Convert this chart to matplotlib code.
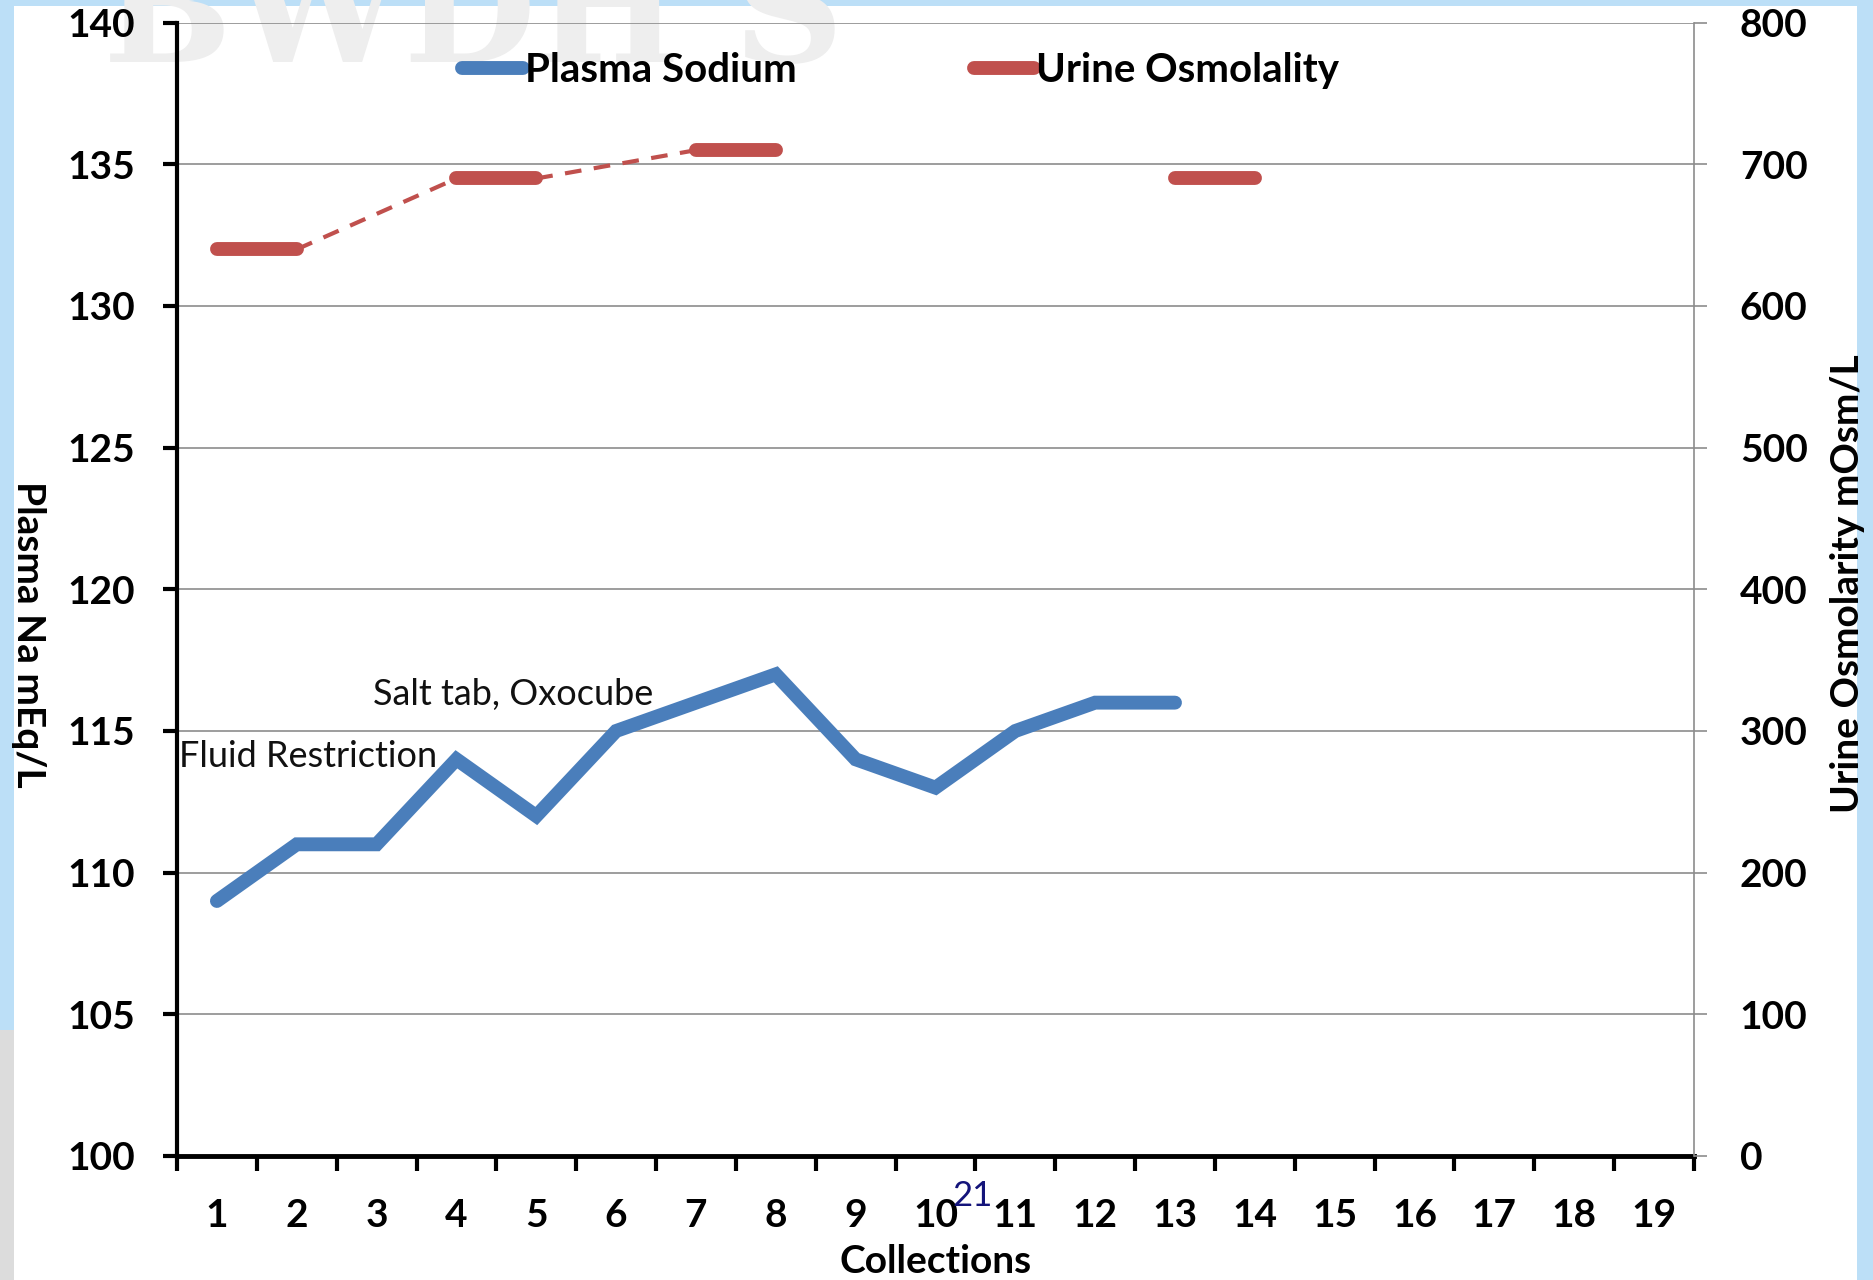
import numpy as np
import matplotlib
matplotlib.use("Agg")
import matplotlib.pyplot as plt
from matplotlib.patches import Rectangle
from matplotlib.lines import Line2D

# =====================================================
# DATA
# =====================================================

collections = list(range(1, 20))

plasma_x = [1, 2, 3, 4, 5, 6, 7, 8, 9, 10, 11, 12, 13]
plasma_na = [109, 111, 111, 114, 112, 115, 116, 117, 114, 113, 115, 116, 116]

urine_x = [1, 2, 4, 5, 7, 8, 13, 14]
urine_osm = [640, 640, 690, 690, 710, 710, 690, 690]

left_ticks = [100, 105, 110, 115, 120, 125, 130, 135, 140]
right_ticks = [0, 100, 200, 300, 400, 500, 600, 700, 800]

notes = [
    ("Fluid Restriction", 0.53, 114.1),
    ("Salt tab, Oxocube", 2.96, 116.3),
]

BLUE = "#4a7ebb"
RED = "#c0504d"
FONT = "Lato"
FS = 28

# =====================================================
# FIGURE
# =====================================================

fig = plt.figure(figsize=(18.73, 12.8), dpi=100)
fig.patch.set_facecolor("#bcdff7")

# slide background
fig.patches.append(Rectangle((14 / 1873, 0), (1857 - 14) / 1873, 1 - 6 / 1280,
                             transform=fig.transFigure, facecolor="white",
                             edgecolor="none", zorder=-10))
fig.patches.append(Rectangle((0, 0), 14 / 1873, 250 / 1280,
                             transform=fig.transFigure, facecolor="#dcdcdc",
                             edgecolor="none", zorder=-10))

# faint watermark at the top
fig.text(0.055, 0.985, "BWDH S", fontsize=110, family="DejaVu Serif",
         fontweight="bold", color="#eeeeee", ha="left", va="center", zorder=-5)

ax = fig.add_axes([0.0945, 0.0969, 0.9044 - 0.0945, 0.9823 - 0.0969])
ax.set_facecolor("none")
ax2 = ax.twinx()

# plasma sodium
ax.plot(plasma_x, plasma_na, color=BLUE, lw=10, solid_capstyle="round",
        solid_joinstyle="miter", zorder=3)

# urine osmolality: thick segments for pairs, thin dashes across single gaps
for i in range(len(urine_x) - 1):
    gap = urine_x[i + 1] - urine_x[i]
    xs = [urine_x[i], urine_x[i + 1]]
    ys = [urine_osm[i], urine_osm[i + 1]]
    if gap == 1:
        ax2.plot(xs, ys, color=RED, lw=10, solid_capstyle="round", zorder=4)
    elif gap == 2:
        ax2.plot(xs, ys, color=RED, lw=3, ls=(0, (4, 3)), zorder=3)

# axes
ax.set_xlim(0.5, 19.5)
ax.set_ylim(100, 140)
ax2.set_ylim(0, 800)

ax.set_yticks(left_ticks)
ax.set_yticklabels([str(v) for v in left_ticks])
ax2.set_yticks(right_ticks)
ax2.set_yticklabels([str(v) for v in right_ticks])

ax.set_xticks(np.arange(0.5, 20.0, 1.0))
ax.set_xticklabels([])
ax.set_xticks(collections, minor=True)
ax.set_xticklabels([str(c) for c in collections], minor=True)

ax.yaxis.grid(True, color="#8c8c8c", lw=1.2)
ax.set_axisbelow(True)

for a in (ax, ax2):
    a.spines["top"].set_visible(False)
ax.spines["right"].set_visible(False)
ax2.spines["left"].set_visible(False)
ax2.spines["bottom"].set_visible(False)
ax2.spines["right"].set_color("#8c8c8c")
ax2.spines["right"].set_linewidth(1.2)
ax.spines["left"].set_linewidth(3)
ax.spines["bottom"].set_linewidth(3.5)

ax.tick_params(axis="y", direction="out", length=10, width=3, pad=20,
               labelsize=FS)
ax.tick_params(axis="x", which="major", direction="out", length=11, width=3)
ax.tick_params(axis="x", which="minor", length=0, pad=30, labelsize=FS)
ax2.tick_params(axis="y", direction="out", length=9, width=1.2,
                color="#8c8c8c", pad=24, labelsize=FS)

for lab in ax.get_yticklabels() + ax.get_xticklabels(minor=True) + ax2.get_yticklabels():
    lab.set_fontfamily(FONT)
    lab.set_fontweight("bold")

ax.set_xlabel("Collections", fontsize=FS, fontweight="bold", family=FONT,
              labelpad=8)
ax.set_ylabel("Plasma Na mEq/L", fontsize=FS, fontweight="bold", family=FONT,
              rotation=270, va="center")
ax.yaxis.set_label_coords(-0.098, 0.46)
ax2.set_ylabel("Urine Osmolarity mOsm/L", fontsize=FS, fontweight="bold",
               family=FONT)
ax2.yaxis.set_label_coords(1.09, 0.505)

# annotations
for txt, x, y in notes:
    ax.text(x, y, txt, fontsize=26, family=FONT, ha="left", va="center",
            color="#111111", zorder=5)

# legend
handles = [
    Line2D([0], [0], color=BLUE, lw=10, solid_capstyle="round"),
    Line2D([0], [0], color=RED, lw=10, solid_capstyle="round"),
]
leg = ax.legend(handles, ["Plasma Sodium", "Urine Osmolality"], ncol=2,
                loc="upper center", bbox_to_anchor=(0.477, 1.006), frameon=False,
                handlelength=1.5, handletextpad=0.05, columnspacing=4.4,
                prop={"family": FONT, "weight": "bold", "size": 29})

# slide number
fig.text(0.519, 0.066, "21", fontsize=25, family=FONT, color="#14147a",
         ha="center", va="center")

fig.savefig("out.png", dpi=100, facecolor=fig.get_facecolor())
